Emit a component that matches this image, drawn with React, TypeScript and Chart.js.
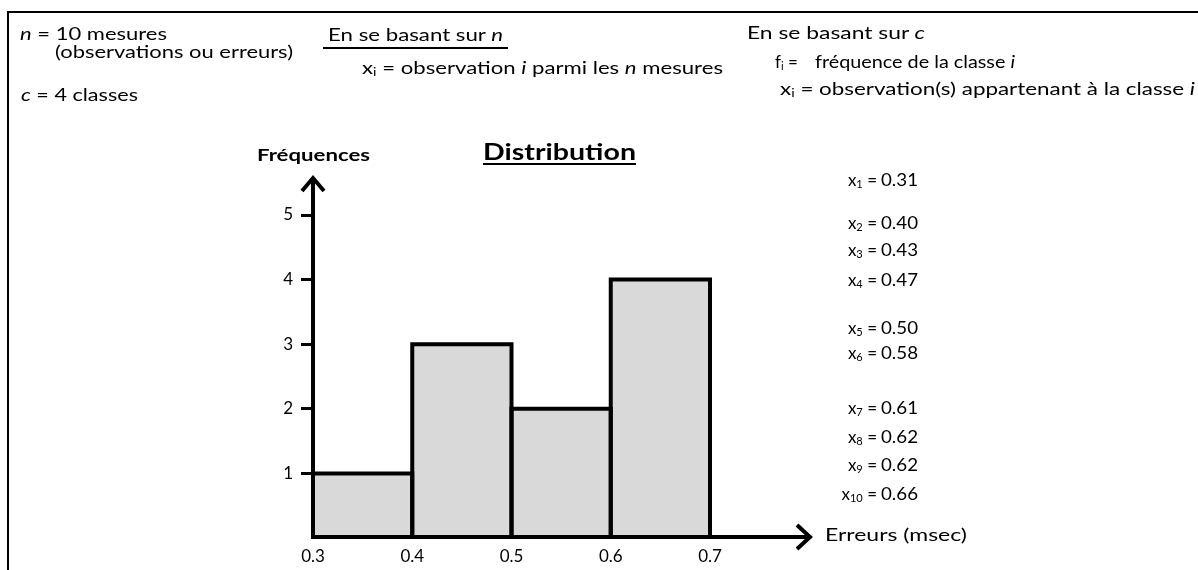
import React, { useEffect, useLayoutEffect, useRef } from "react";
import { Chart, registerables } from "chart.js";

Chart.register(...registerables);

// ---------- data ----------
const classBounds = [0.3, 0.4, 0.5, 0.6, 0.7];
const frequencies = [1, 3, 2, 4];
const yTickValues = [1, 2, 3, 4, 5];
const obsIndex = ["1", "2", "3", "4", "5", "6", "7", "8", "9", "10"];
const obsValues = ["0.31", "0.40", "0.43", "0.47", "0.50", "0.58", "0.61", "0.62", "0.62", "0.66"];
const chartTitle = "Distribution";
const yAxisTitle = "Fréquences";
const xAxisTitle = "Erreurs (msec)";

// ---------- layout (styles only) ----------
const W = 1198;
const H = 570;
const obsRowY = [180, 223, 250, 280, 328, 353, 408, 437, 465, 494];
const FONT = "Lato, 'Open Sans', sans-serif";

function Txt({ x, cy, size = 17, bold = false, w, lh = 22, children, style }: any) {
  const ref = useRef<HTMLDivElement>(null);
  useLayoutEffect(() => {
    const el = ref.current;
    if (!el || !w) return;
    el.style.transform = "none";
    const nat = el.getBoundingClientRect().width;
    if (nat > 0) el.style.transform = `scaleX(${w / nat})`;
  }, [w]);
  return (
    <div
      ref={ref}
      style={{
        position: "absolute",
        left: x,
        top: cy - lh / 2,
        fontSize: size,
        lineHeight: lh + "px",
        fontWeight: bold ? 700 : 400,
        whiteSpace: "nowrap",
        transformOrigin: "0 50%",
        ...style,
      }}
    >
      {children}
    </div>
  );
}

const Sub = ({ children }: any) => (
  <sub style={{ fontSize: "0.65em", verticalAlign: "-0.2em", lineHeight: 0 }}>{children}</sub>
);

const decorPlugin = {
  id: "decor",
  afterDatasetsDraw(chart: any) {
    const ctx = chart.ctx;
    const meta = chart.getDatasetMeta(0);
    ctx.save();
    ctx.strokeStyle = "#000";
    ctx.lineWidth = 4;
    ctx.lineJoin = "miter";
    meta.data.forEach((el: any) => {
      const { x, y, base, width } = el.getProps(["x", "y", "base", "width"], true);
      const l = x - width / 2;
      const r = x + width / 2;
      ctx.beginPath();
      ctx.moveTo(l, base);
      ctx.lineTo(l, y);
      ctx.lineTo(r, y);
      ctx.lineTo(r, base);
      ctx.stroke();
    });
    ctx.restore();
  },
  afterDraw(chart: any) {
    const ctx = chart.ctx;
    const { left, right, top, bottom } = chart.chartArea;
    const ay = bottom - 1;
    const tipY = top - 39;
    const tipX = right + 102;
    ctx.save();
    ctx.strokeStyle = "#000";
    ctx.lineWidth = 4;
    ctx.lineCap = "butt";
    ctx.lineJoin = "miter";
    // y axis
    ctx.beginPath();
    ctx.moveTo(left, bottom + 1);
    ctx.lineTo(left, tipY + 2);
    ctx.stroke();
    ctx.beginPath();
    ctx.moveTo(left - 11, tipY + 15);
    ctx.lineTo(left, tipY + 2);
    ctx.lineTo(left + 11, tipY + 15);
    ctx.stroke();
    // x axis
    ctx.beginPath();
    ctx.moveTo(left - 2, ay);
    ctx.lineTo(tipX - 2, ay);
    ctx.stroke();
    ctx.beginPath();
    ctx.moveTo(tipX - 15, ay - 12);
    ctx.lineTo(tipX - 2, ay);
    ctx.lineTo(tipX - 15, ay + 12);
    ctx.stroke();
    ctx.restore();
  },
};

export default function App() {
  const canvasRef = useRef<HTMLCanvasElement>(null);

  useEffect(() => {
    const canvas = canvasRef.current;
    if (!canvas) return;
    const last = classBounds.length - 1;
    const chart = new Chart(canvas, {
      type: "bar",
      data: {
        datasets: [
          {
            data: frequencies.map((f, i) => ({ x: (classBounds[i] + classBounds[i + 1]) / 2, y: f })),
            backgroundColor: "#d9d9d9",
            borderWidth: 0,
            barPercentage: 1,
            categoryPercentage: 1,
          } as any,
        ],
      },
      options: {
        responsive: false,
        animation: false,
        devicePixelRatio: 1,
        layout: { padding: { left: 283, right: 488, top: 215, bottom: 8 } },
        plugins: {
          legend: { display: false },
          tooltip: { enabled: false },
          title: { display: false },
        },
        scales: {
          x: {
            type: "linear",
            min: classBounds[0],
            max: classBounds[last],
            offset: false,
            grid: { display: false, drawTicks: false, offset: false },
            border: { display: false },
            ticks: {
              stepSize: 0.1,
              padding: 8,
              autoSkip: false,
              maxRotation: 0,
              color: "#000",
              font: { family: FONT, size: 17 },
              callback: (v: any) => Number(v).toFixed(1),
            },
            afterFit: (s: any) => {
              s.height = 24;
            },
          },
          y: {
            min: 0,
            max: yTickValues[yTickValues.length - 1],
            grid: {
              drawOnChartArea: false,
              drawTicks: true,
              tickLength: 12,
              color: "#000",
              lineWidth: (c: any) => (c.tick && c.tick.value === 0 ? 0 : 3),
            },
            border: { display: false },
            ticks: {
              stepSize: 1,
              padding: 8,
              color: "#000",
              font: { family: FONT, size: 17 },
              callback: (v: any) => (yTickValues.includes(Number(v)) ? String(v) : ""),
            },
            afterFit: (s: any) => {
              s.width = 30;
            },
          },
        },
      } as any,
      plugins: [decorPlugin as any],
    });
    return () => chart.destroy();
  }, []);

  return (
    <div
      style={{
        position: "fixed",
        left: 0,
        top: 0,
        width: W,
        height: H,
        background: "#fff",
        fontFamily: FONT,
        color: "#000",
        overflow: "hidden",
      }}
    >
      {/* frame */}
      <div
        style={{
          position: "absolute",
          left: 7,
          top: 11,
          width: W - 7,
          height: H - 11,
          borderTop: "2px solid #000",
          borderLeft: "2px solid #000",
          boxSizing: "border-box",
        }}
      />
      <canvas ref={canvasRef} width={W} height={H} style={{ position: "absolute", left: 0, top: 0 }} />

      {/* top-left notes */}
      <Txt x={20} cy={34} w={147}>
        <i>n</i> = 10 mesures
      </Txt>
      <Txt x={55} cy={52} w={238}>
        (observations ou erreurs)
      </Txt>
      <Txt x={21} cy={95} w={117}>
        <i>c</i> = 4 classes
      </Txt>

      {/* middle notes */}
      <Txt x={328} cy={35} w={175}>
        En se basant sur <i>n</i>
      </Txt>
      <div style={{ position: "absolute", left: 323, top: 47, width: 185, height: 2, background: "#000" }} />
      <Txt x={362} cy={68} w={361}>
        x<Sub>i</Sub> = observation <i>i</i> parmi les <i>n</i> mesures
      </Txt>

      {/* right notes */}
      <Txt x={747} cy={33} w={178}>
        En se basant sur <i>c</i>
      </Txt>
      <Txt x={775} cy={62}>
        f<Sub>i</Sub> =
      </Txt>
      <Txt x={815} cy={62} w={200}>
        fréquence de la classe <i>i</i>
      </Txt>
      <Txt x={780} cy={89} w={415}>
        x<Sub>i</Sub> = observation(s) appartenant à la classe <i>i</i>
      </Txt>

      {/* chart titles */}
      <Txt x={257} cy={155} size={17} bold w={113}>
        {yAxisTitle}
      </Txt>
      <Txt x={483} cy={152} size={22} bold w={153} lh={26}>
        {chartTitle}
      </Txt>
      <div style={{ position: "absolute", left: 483, top: 163, width: 153, height: 2, background: "#000" }} />
      <Txt x={825} cy={535} size={17} w={142}>
        {xAxisTitle}
      </Txt>

      {/* observations list */}
      {obsValues.map((v, i) => (
        <React.Fragment key={i}>
          <div
            style={{
              position: "absolute",
              right: W - 877,
              top: obsRowY[i] - 11,
              lineHeight: "22px",
              fontSize: 17,
              whiteSpace: "nowrap",
              textAlign: "right",
            }}
          >
            x<Sub>{obsIndex[i]}</Sub> =
          </div>
          <Txt x={881} cy={obsRowY[i]} size={17} w={37}>
            {v}
          </Txt>
        </React.Fragment>
      ))}
    </div>
  );
}
